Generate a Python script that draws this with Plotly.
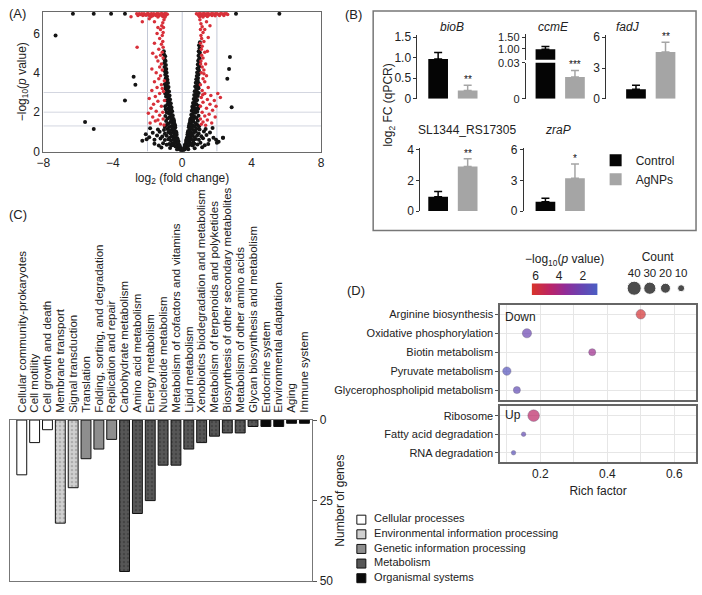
import plotly.graph_objects as go

W, H = 702, 595
def fx(px):
    return px / W
def fy(py):
    return 1 - py / H

FONT = "Liberation Sans, Arial, sans-serif"

# ---------------- Panel A : volcano (log2 FC, -log10 p) ----------------
volcano_black = [
    (-0.02,0.02),(-0.05,0.05),(-0.10,0.08),(-0.15,0.12),(-0.08,0.15),(-0.22,0.18),(-0.30,0.10),(-0.12,0.22),
    (-0.18,0.28),(-0.27,0.30),(-0.38,0.26),(-0.50,0.32),(-0.62,0.30),(-0.20,0.38),(-0.33,0.42),(-0.45,0.45),
    (-0.58,0.40),(-0.75,0.38),(-0.90,0.35),(-1.10,0.42),(-1.35,0.30),(-0.22,0.52),(-0.30,0.55),(-0.40,0.58),
    (-0.52,0.60),(-0.65,0.55),(-0.80,0.62),(-1.00,0.58),(-1.25,0.66),(-1.60,0.60),(-0.28,0.68),(-0.38,0.72),
    (-0.48,0.75),(-0.60,0.78),(-0.72,0.70),(-0.90,0.80),(-1.15,0.76),(-1.45,0.82),(-1.90,0.72),(-0.32,0.85),
    (-0.42,0.90),(-0.55,0.95),(-0.68,0.92),(-0.80,0.98),(-1.00,0.90),(-1.30,1.00),(-1.70,0.95),(-2.10,0.88),
    (-0.36,1.02),(-0.46,1.08),(-0.58,1.12),(-0.70,1.06),(-0.85,1.15),(-1.05,1.10),(-1.40,1.12),(-1.85,1.18),
    (-2.05,0.62),(-0.40,1.22),(-0.50,1.28),(-0.62,1.30),(-0.75,1.25),(-0.90,1.35),(-1.00,1.25),(-0.44,1.40),
    (-0.54,1.45),(-0.66,1.50),(-0.80,1.42),(-0.93,1.55),(-0.48,1.58),(-0.50,1.65),(-0.60,1.70),(-0.72,1.75),
    (-0.85,1.68),(-0.97,1.80),(-0.55,1.85),(-0.65,1.90),(-0.78,1.95),(-0.90,2.00),(-0.58,2.05),(-0.68,2.12),
    (-0.82,2.18),(-0.95,2.15),(-0.62,2.25),(-0.72,2.32),(-0.86,2.38),(-0.98,2.30),(-0.66,2.45),(-0.76,2.52),
    (-0.90,2.60),(-0.70,2.65),(-0.80,2.72),(-0.93,2.80),(-0.73,2.85),(-0.85,2.92),(-0.98,2.95),(-0.76,3.05),
    (-0.87,3.12),(-0.97,3.20),(-0.79,3.28),(-0.90,3.35),(-0.82,3.48),(-0.93,3.55),(-1.00,3.42),(-0.85,3.65),
    (-0.95,3.72),(-0.88,3.82),(-0.98,3.90),(-0.90,4.00),(-1.00,4.08),(-0.92,4.20),(-1.02,4.30),(-0.94,4.40),
    (-1.03,4.50),(-0.96,4.60),(-1.04,4.72),(-0.98,4.85),(-1.05,4.95),(-0.25,0.45),(-0.35,0.62),(-0.44,0.82),
    (-0.53,1.18),(-0.64,1.62),(-0.74,2.05),(-0.83,2.55),(-0.88,3.00),(-0.95,3.30),(-0.15,0.30),(-0.26,0.60),
    (-0.33,0.95),(-0.41,1.32),(-0.47,1.50),(-0.57,1.78),(-0.63,2.18),(-0.69,2.38),(-0.78,2.78),(-0.84,3.20),
    (-0.91,3.62),(-0.96,4.15),(-1.00,4.65),(-1.06,5.10),(-1.60,0.40),(-2.30,0.55),(-1.20,0.20),(-0.70,0.18),
    (0.03,0.03),(0.07,0.06),(0.12,0.10),(0.18,0.14),(0.10,0.18),(0.25,0.20),(0.35,0.12),(0.16,0.26),
    (0.24,0.30),(0.34,0.28),(0.46,0.34),(0.60,0.30),(0.20,0.40),(0.30,0.44),(0.42,0.46),(0.55,0.42),
    (0.70,0.40),(0.88,0.36),(1.05,0.44),(1.30,0.32),(0.22,0.54),(0.32,0.56),(0.42,0.60),(0.52,0.62),
    (0.64,0.56),(0.78,0.64),(0.96,0.60),(1.20,0.68),(1.55,0.58),(0.27,0.70),(0.36,0.74),(0.47,0.76),
    (0.58,0.80),(0.70,0.72),(0.86,0.82),(1.10,0.78),(1.40,0.84),(1.80,0.70),(0.30,0.86),(0.40,0.92),
    (0.52,0.96),(0.65,0.94),(0.78,1.00),(0.95,0.92),(1.25,1.02),(1.60,0.97),(2.35,0.70),(0.34,1.04),
    (0.44,1.10),(0.56,1.14),(0.68,1.08),(0.82,1.16),(1.00,1.12),(1.35,1.15),(1.75,1.20),(0.38,1.24),
    (0.48,1.30),(0.60,1.32),(0.72,1.27),(0.86,1.36),(0.97,1.28),(0.42,1.42),(0.52,1.47),(0.64,1.52),
    (0.77,1.44),(0.90,1.57),(0.46,1.60),(0.48,1.67),(0.58,1.72),(0.70,1.77),(0.82,1.70),(0.94,1.82),
    (0.52,1.87),(0.62,1.92),(0.75,1.97),(0.87,2.02),(0.55,2.07),(0.65,2.14),(0.78,2.20),(0.92,2.17),
    (0.58,2.27),(0.68,2.34),(0.82,2.40),(0.95,2.32),(0.62,2.47),(0.72,2.54),(0.86,2.62),(0.66,2.67),
    (0.76,2.74),(0.90,2.82),(0.69,2.87),(0.81,2.94),(0.95,2.97),(0.72,3.07),(0.83,3.14),(0.94,3.22),
    (0.75,3.30),(0.86,3.37),(0.78,3.50),(0.89,3.57),(0.97,3.44),(0.81,3.67),(0.91,3.74),(0.84,3.84),
    (0.94,3.92),(0.86,4.02),(0.96,4.10),(0.88,4.22),(0.98,4.32),(0.90,4.42),(0.99,4.52),(0.92,4.62),
    (1.00,4.74),(0.94,4.87),(1.00,4.97),(0.95,5.10),(1.00,5.25),(0.97,5.40),(1.02,5.55),(0.26,0.48),
    (0.36,0.64),(0.45,0.85),(0.54,1.20),(0.63,1.64),(0.73,2.07),(0.80,2.58),(0.86,3.02),(0.92,3.28),
    (0.15,0.33),(0.25,0.62),(0.32,0.97),(0.40,1.34),(0.46,1.52),(0.56,1.80),(0.62,2.20),(0.67,2.40),
    (0.76,2.80),(0.82,3.22),(0.88,3.64),(0.94,4.17),(0.98,4.68),(1.01,5.05),(1.50,0.38),(2.10,0.50),
    (1.15,0.22),(0.72,0.16),(2.00,0.45),(1.95,0.60),
    (-7.30,5.90),(-5.60,1.50),(-5.10,1.15),(-3.30,2.60),(-2.80,3.80),(-2.70,3.40),
    (-6.30,7.00),(-5.10,7.00),(-4.10,7.00),(-3.30,7.00),(3.10,7.00),(5.60,7.00),
    (2.60,3.70),(2.70,4.20),(2.75,4.80),(2.85,2.25),(2.35,0.70),
]
volcano_red = [
    (-2.62,7.00),(-2.48,7.00),(-2.41,6.97),(-2.33,7.00),(-2.20,7.00),(-2.15,6.96),(-2.02,7.00),(-1.95,7.00),
    (-1.83,6.98),(-1.77,7.00),(-1.64,7.00),(-1.58,6.97),(-1.47,7.00),(-1.39,7.00),(-1.31,6.98),(-1.22,7.00),
    (-1.16,7.00),(-1.08,6.97),(-1.01,7.00),(-0.93,7.00),(-0.86,6.98),(-2.55,6.92),(-2.27,6.91),(-2.08,6.93),
    (-1.90,6.92),(-1.70,6.90),(-1.52,6.92),(-1.35,6.90),(-1.20,6.93),(-1.05,6.90),(-0.95,6.92),(-1.80,6.85),
    (-1.40,6.84),(-1.12,6.86),(-1.00,6.83),(-2.95,6.85),
    (-1.05,6.70),(-1.12,6.55),(-1.18,6.40),(-1.08,6.30),(-1.25,6.20),(-1.10,6.05),(-1.15,5.90),(-1.30,5.75),
    (-1.12,5.60),(-1.20,5.45),(-1.10,5.30),(-1.35,5.20),(-1.15,5.05),(-1.25,4.90),(-1.10,4.75),(-1.40,4.60),
    (-1.20,4.45),(-1.30,4.30),(-1.15,4.15),(-1.50,4.00),(-1.25,3.85),(-1.35,3.70),(-1.60,3.55),(-1.20,3.40),
    (-1.45,3.25),(-1.75,3.10),(-1.30,2.95),(-1.55,2.80),(-1.90,2.70),(-1.40,2.55),(-1.65,2.40),(-1.20,2.30),
    (-1.80,2.20),(-1.50,2.05),(-1.95,1.95),(-1.30,1.85),(-1.70,1.75),(-1.10,1.65),(-1.55,1.55),(-1.85,1.45),
    (-1.25,1.40),(-1.05,1.35),(-1.02,2.60),(-1.08,3.05),(-1.03,3.60),(-1.60,6.60),(-1.40,6.30),(-1.90,6.75),
    (-2.30,6.60),(-1.70,5.00),(-2.60,5.30),(-1.45,6.00),(-1.60,5.50),(-1.50,4.80),(-1.75,4.20),(-1.15,3.20),
    (-1.12,2.00),(-1.40,1.60),
    (0.82,7.00),(0.90,6.98),(0.97,7.00),(1.05,7.00),(1.12,6.97),(1.20,7.00),(1.27,7.00),(1.35,6.98),
    (1.43,7.00),(1.52,7.00),(1.60,6.97),(1.68,7.00),(1.77,7.00),(1.85,6.98),(1.93,7.00),(2.02,7.00),
    (2.10,6.97),(2.20,7.00),(2.28,7.00),(2.37,6.98),(2.45,7.00),(2.55,7.00),(2.62,6.97),(0.95,6.92),
    (1.10,6.90),(1.30,6.92),(1.50,6.91),(1.72,6.92),(1.90,6.90),(2.15,6.92),(2.40,6.91),(1.00,6.85),
    (1.20,6.84),(1.45,6.86),
    (1.02,6.70),(1.08,6.50),(1.15,6.35),(1.05,6.20),(1.20,6.05),(1.08,5.90),(1.12,5.75),(1.25,5.60),
    (1.05,5.50),(1.15,5.35),(1.10,5.20),(1.30,5.05),(1.12,4.90),(1.20,4.75),(1.08,4.60),(1.35,4.45),
    (1.15,4.30),(1.25,4.15),(1.10,4.00),(1.40,3.85),(1.20,3.70),(1.30,3.55),(1.05,3.40),(1.50,3.25),
    (1.15,3.10),(1.30,2.95),(1.65,2.85),(1.10,2.75),(1.45,2.65),(1.85,2.60),(1.20,2.50),(1.60,2.40),
    (1.05,2.30),(1.40,2.20),(1.75,2.10),(1.15,2.00),(1.55,1.90),(1.30,1.80),(1.90,1.75),(1.05,1.65),
    (1.45,1.60),(1.20,1.50),(1.70,1.45),(1.10,1.38),(1.35,1.33),(1.40,6.60),(1.60,6.40),(1.30,6.20),
    (1.50,5.80),(1.45,5.10),(2.05,2.95),(2.20,2.75),(1.95,2.30),(1.25,3.95),(1.06,4.45),(1.18,2.88),
]
fc_lines = [-2, 0, 2]
p_lines = [1.3, 2, 3]

# ---------------- Panel B : qPCR ----------------
genes = ["bioB", "ccmE", "fadJ", "SL1344_RS17305", "zraP"]
gene_titles = ["<i>bioB</i>", "<i>ccmE</i>", "<i>fadJ</i>", "SL1344_RS17305", "<i>zraP</i>"]
groups_b = ["Control", "AgNPs"]
control_mean = [0.97, 0.99, 0.92, 0.94, 0.90]
control_err = [0.16, 0.12, 0.40, 0.33, 0.35]
agnp_mean = [0.20, 0.018, 4.57, 2.90, 3.20]
agnp_err = [0.13, 0.0055, 0.95, 0.50, 1.40]
stars = ["**", "***", "**", "**", "*"]

# ---------------- Panel C : KEGG classification ----------------
kegg_terms = [
    "Cellular community-prokaryotes", "Cell motility", "Cell growth and death",
    "Membrane transport", "Signal transduction",
    "Translation", "Folding, sorting, and degradation", "Replication and repair",
    "Carbohydrate metabolism", "Amino acid metabolism", "Energy metabolism",
    "Nucleotide metabolism", "Metabolism of cofactors and vitamins", "Lipid metabolism",
    "Xenobiotics biodegradation and metabolism", "Metabolism of terpenoids and polyketides",
    "Biosynthesis of other secondary metabolites", "Metabolism of other amino acids",
    "Glycan biosynthesis and metabolism",
    "Endocrine system", "Environmental adaptation", "Aging", "Immune system",
]
kegg_counts = [17, 7, 3, 32, 21, 12, 9, 6, 47, 29, 25, 14, 14, 9, 7, 5, 4, 4, 2, 2, 2, 1, 1]
class_names = ["Cellular processes", "Environmental information processing",
               "Genetic information processing", "Metabolism", "Organismal systems"]
kegg_class = [0, 0, 0, 1, 1, 2, 2, 2, 3, 3, 3, 3, 3, 3, 3, 3, 3, 3, 3, 4, 4, 4, 4]

# ---------------- Panel D : KEGG enrichment ----------------
down_terms = ["Arginine biosynthesis", "Oxidative phosphorylation", "Biotin metabolism",
              "Pyruvate metabolism", "Glycerophospholipid metabolism"]
down_rich = [0.50, 0.16, 0.355, 0.10, 0.13]
down_logp = [6.1, 2.2, 3.9, 1.3, 1.8]
down_count = [18, 17, 10, 14, 10]
up_terms = ["Ribosome", "Fatty acid degradation", "RNA degradation"]
up_rich = [0.18, 0.15, 0.12]
up_logp = [4.9, 1.9, 1.5]
up_count = [27, 4, 4]
count_key = [40, 30, 20, 10]
logp_key = [6.3, 5, 4, 3, 2, 0.8]

# ---------------- styles ----------------
class_style = [
    dict(color="#ffffff", pattern=None),
    dict(color="#d0d0d0", pattern=dict(shape=".", fgcolor="#8a8a8a", bgcolor="#d0d0d0", size=4, solidity=0.3)),
    dict(color="#8e8e8e", pattern=None),
    dict(color="#575757", pattern=dict(shape=".", fgcolor="#2f2f2f", bgcolor="#575757", size=4, solidity=0.3)),
    dict(color="#0a0a0a", pattern=None),
]
pscale = [[0, "#4a5fc4"], [0.25, "#6845b2"], [0.5, "#922c98"], [0.72, "#b9246a"], [1, "#d9352a"]]
PMIN, PMAX = 0.75, 6.33
SIZEREF = 0.4

fig = go.Figure()

# ---- A
bx, by = zip(*volcano_black)
rx, ry = zip(*volcano_red)
fig.add_trace(go.Scatter(x=bx, y=by, mode="markers", marker=dict(size=4, color="#141414"),
                         xaxis="x", yaxis="y", showlegend=False, hoverinfo="skip", cliponaxis=True))
fig.add_trace(go.Scatter(x=rx, y=ry, mode="markers", marker=dict(size=3.5, color="#d8303a"),
                         xaxis="x", yaxis="y", showlegend=False, hoverinfo="skip", cliponaxis=True))

shapes = []
for v in fc_lines:
    shapes.append(dict(type="line", xref="x", yref="y", x0=v, x1=v, y0=0, y1=7.1,
                       line=dict(color="#c3c8d6", width=1), layer="below"))
for v in p_lines:
    shapes.append(dict(type="line", xref="x", yref="y", x0=-8, x1=8, y0=v, y1=v,
                       line=dict(color="#d3d6e0", width=1), layer="below"))

# ---- B
b_axes = [("x2", "y2"), ("x3", "y3"), ("x5", "y5"), ("x6", "y6"), ("x7", "y7")]
for i in range(len(genes)):
    xa, ya = b_axes[i]
    pairs = [(xa, ya)]
    if genes[i] == "ccmE":
        pairs.append(("x4", "y4"))
    for k, (xx, yy) in enumerate(pairs):
        fig.add_trace(go.Bar(x=[groups_b[0]], y=[control_mean[i]], width=0.667, name="Control",
                             marker=dict(color="#050505", line=dict(width=0)),
                             error_y=dict(type="data", array=[control_err[i]], arrayminus=[0], symmetric=False,
                                          color="#050505", thickness=1.5, width=4),
                             legendgroup="Control", showlegend=(i == 0 and k == 0),
                             xaxis=xx, yaxis=yy, hoverinfo="skip"))
        fig.add_trace(go.Bar(x=[groups_b[1]], y=[agnp_mean[i]], width=0.667, name="AgNPs",
                             marker=dict(color="#a5a5a5", line=dict(width=0)),
                             error_y=dict(type="data", array=[agnp_err[i]], arrayminus=[0], symmetric=False,
                                          color="#a5a5a5", thickness=1.5, width=4),
                             legendgroup="AgNPs", showlegend=(i == 0 and k == 0),
                             xaxis=xx, yaxis=yy, hoverinfo="skip"))

# ---- C
for c, name in enumerate(class_names):
    xs = [t for t, k in zip(kegg_terms, kegg_class) if k == c]
    ys = [v for v, k in zip(kegg_counts, kegg_class) if k == c]
    st = class_style[c]
    mk = dict(color=st["color"], line=dict(color="#111", width=1))
    if st["pattern"]:
        mk["pattern"] = st["pattern"]
    fig.add_trace(go.Bar(x=xs, y=ys, width=0.77, marker=mk, name=name, showlegend=False,
                         xaxis="x8", yaxis="y8", hoverinfo="skip"))

# C legend (custom key)
fig.add_trace(go.Scatter(x=[0] * len(class_names), y=list(range(len(class_names))), mode="markers+text",
                         marker=dict(symbol="square", size=9, color=[s["color"] for s in class_style],
                                     line=dict(color="#111", width=1)),
                         text=["  " + n for n in class_names], textposition="middle right",
                         textfont=dict(size=11, color="#222"),
                         xaxis="x13", yaxis="y13", showlegend=False, hoverinfo="skip"))

# ---- D
dm = dict(sizemode="area", sizeref=SIZEREF, sizemin=2, colorscale=pscale, cmin=PMIN, cmax=PMAX,
          showscale=False, line=dict(width=0.6, color="rgba(50,40,80,0.7)"))
fig.add_trace(go.Scatter(x=down_rich, y=down_terms, mode="markers",
                         marker=dict(size=down_count, color=down_logp, **dm),
                         xaxis="x9", yaxis="y9", showlegend=False, hoverinfo="skip"))
fig.add_trace(go.Scatter(x=up_rich, y=up_terms, mode="markers",
                         marker=dict(size=up_count, color=up_logp, **dm),
                         xaxis="x10", yaxis="y10", showlegend=False, hoverinfo="skip"))
# colour key
fig.add_trace(go.Heatmap(x=logp_key, y=[0], z=[logp_key], colorscale=pscale, zmin=PMIN, zmax=PMAX,
                         showscale=False, zsmooth="best", xaxis="x11", yaxis="y11", hoverinfo="skip"))
# size key
fig.add_trace(go.Scatter(x=list(range(len(count_key))), y=[0] * len(count_key), mode="markers",
                         marker=dict(size=count_key, sizemode="area", sizeref=SIZEREF, color="#000"),
                         xaxis="x12", yaxis="y12", showlegend=False, hoverinfo="skip"))

# ---------------- layout ----------------
tickf = dict(family=FONT, size=12, color="#222")
lay = dict(
    width=W, height=595, margin=dict(l=0, r=0, t=0, b=0),
    paper_bgcolor="white", plot_bgcolor="white",
    font=dict(family=FONT, size=12, color="#222"),
    barmode="overlay", showlegend=True,
    legend=dict(x=fx(598), y=fy(142), xanchor="left", yanchor="top", font=dict(size=12, color="#222"),
                bgcolor="rgba(0,0,0,0)", tracegroupgap=0, itemwidth=30),
)

# A axes
lay["xaxis"] = dict(domain=[fx(37), fx(319)], range=[-8, 8], tickvals=[-8, -4, 0, 4, 8],
                    showline=True, mirror=True, linecolor="#6a6a6a", linewidth=1.2, ticks="",
                    showgrid=False, zeroline=False, tickfont=tickf, anchor="y",
                    title=dict(text="log<sub>2</sub> (fold change)", font=dict(size=12), standoff=4))
lay["yaxis"] = dict(domain=[fy(148), fy(5)], range=[0, 7.1], tickvals=[0, 2, 4, 6],
                    showline=True, mirror=True, linecolor="#6a6a6a", linewidth=1.2, ticks="",
                    showgrid=False, zeroline=False, tickfont=tickf, anchor="x",
                    title=dict(text="−log<sub>10</sub>(<i>p</i> value)", font=dict(size=12), standoff=4))

# B axes
def b_x(axis_px, c0_px, width_px=73, unit=30.0):
    left = -(c0_px - axis_px) / unit
    return dict(domain=[fx(axis_px), fx(axis_px + width_px)], range=[left, left + width_px / unit],
                visible=False, type="category", categoryorder="array", categoryarray=groups_b)

bys = dict(showline=True, linecolor="#333", linewidth=1, ticks="outside", ticklen=3, tickcolor="#333",
           showgrid=False, zeroline=False)

def b_y(anchor, bottom_px, toptick_px, toptick, rtop, tickvals, ticktext):
    ppu = (bottom_px - toptick_px) / toptick
    return dict(domain=[fy(bottom_px), fy(bottom_px - rtop * ppu)], range=[0, rtop],
                tickvals=tickvals, ticktext=ticktext, anchor=anchor, tickfont=tickf, **bys)

small_tick = dict(family=FONT, size=11, color="#222")
lay["xaxis2"] = dict(b_x(417, 438), anchor="y2")
lay["yaxis2"] = b_y("x2", 94, 31, 1.5, 1.55, [0, 0.5, 1.0, 1.5], ["0", "0.5", "1.0", "1.5"])
lay["xaxis3"] = dict(b_x(527, 547), anchor="y3")
lay["yaxis3"] = dict(domain=[fy(94), fy(57)], range=[0, 0.03], tickvals=[0, 0.03], ticktext=["0", "0.03"],
                     anchor="x3", tickfont=small_tick, **bys)
lay["xaxis4"] = dict(b_x(527, 547), anchor="y4")
lay["yaxis4"] = dict(domain=[fy(54), fy(28)], range=[0.54, 1.625], tickvals=[1.0, 1.5], ticktext=["1.00", "1.50"],
                     anchor="x4", tickfont=small_tick, **bys)
lay["xaxis5"] = dict(b_x(609, 639), anchor="y5")
lay["yaxis5"] = b_y("x5", 94, 31, 6, 6.2, [0, 3, 6], ["0", "3", "6"])
lay["xaxis6"] = dict(b_x(420, 438), anchor="y6")
lay["yaxis6"] = b_y("x6", 209, 146, 4, 4.13, [0, 2, 4], ["0", "2", "4"])
lay["xaxis7"] = dict(b_x(525, 547), anchor="y7")
lay["yaxis7"] = b_y("x7", 209, 146, 6, 6.2, [0, 3, 6], ["0", "3", "6"])

# C axes
lay["xaxis8"] = dict(domain=[fx(3), fx(310)], range=[-0.92, 22.6], type="category", categoryorder="array",
                     categoryarray=kegg_terms, tickmode="array", tickvals=kegg_terms, ticktext=kegg_terms,
                     side="top", tickangle=-90, ticks="",
                     tickfont=dict(family=FONT, size=11.5, color="#222"), ticklabelstandoff=4,
                     showline=True, mirror=True, linecolor="#777", linewidth=1.2, showgrid=False, anchor="y8")
lay["yaxis8"] = dict(domain=[fy(588), fy(423)], range=[50, 0], side="right", tickvals=[0, 25, 50],
                     ticks="outside", ticklen=4, tickcolor="#555", showline=True, mirror=True, linecolor="#777",
                     linewidth=1.2, showgrid=False, zeroline=False, tickfont=tickf, anchor="x8",
                     title=dict(text="Number of genes", font=dict(size=12), standoff=2))
lay["xaxis13"] = dict(domain=[fx(353), fx(640)], range=[-0.25, 10], visible=False, anchor="y13")
lay["yaxis13"] = dict(domain=[fy(592), fy(518)], range=[4.47, -0.47], visible=False, anchor="x13")

# D axes
dgrid = "#e6e6e6"
dx_common = dict(domain=[fx(501), fx(700)], range=[0.08, 0.665], tickvals=[0.2, 0.4, 0.6],
                 ticktext=["0.2", "0.4", "0.6"], showgrid=True, gridcolor=dgrid, zeroline=False,
                 showline=True, mirror=True, linecolor="#666", linewidth=1.5, ticks="",
                 minor=dict(dtick=0.1, tick0=0, showgrid=True, gridcolor=dgrid), tickfont=tickf)
dy_common = dict(type="category", showgrid=True, gridcolor=dgrid, showline=True, mirror=True, linecolor="#666",
                 linewidth=1.5, ticks="outside", ticklen=3, tickcolor="#555",
                 tickfont=dict(family=FONT, size=11, color="#222"), zeroline=False)
lay["xaxis9"] = dict(dx_common, showticklabels=False, anchor="y9")
lay["yaxis9"] = dict(dy_common, domain=[fy(402), fy(305)], categoryorder="array", categoryarray=down_terms,
                     range=[4.5, -0.5], anchor="x9")
lay["xaxis10"] = dict(dx_common, anchor="y10", title=dict(text="Rich factor", font=dict(size=12), standoff=6))
lay["yaxis10"] = dict(dy_common, domain=[fy(466), fy(409)], categoryorder="array", categoryarray=up_terms,
                      range=[2.5, -0.5], anchor="x10")
lay["xaxis11"] = dict(domain=[fx(533), fx(600)], range=[PMAX, PMIN], side="top", tickvals=[6, 4, 2],
                      ticktext=["6", "4", "2"], ticks="", tickangle=0, showgrid=False, zeroline=False,
                      showline=False, tickfont=dict(family=FONT, size=12, color="#222"), anchor="y11",
                      title=dict(text="−log<sub>10</sub>(<i>p</i> value)", font=dict(size=12), standoff=2))
lay["yaxis11"] = dict(domain=[fy(295), fy(283)], range=[-0.5, 0.5], visible=False, anchor="x11")
lay["xaxis12"] = dict(domain=[fx(630), fx(692)], range=[-0.45, 3.45], side="top", tickvals=[0, 1, 2, 3],
                      ticktext=[str(c) for c in count_key], ticks="", tickangle=0, showgrid=False,
                      zeroline=False, showline=False, tickfont=dict(family=FONT, size=11.5, color="#222"),
                      anchor="y12", title=dict(text="Count", font=dict(size=12), standoff=2))
lay["yaxis12"] = dict(domain=[fy(296), fy(280)], range=[-1, 1], visible=False, anchor="x12")

# annotations
ann = []
def lab(text, px, py, size=13, xanchor="left"):
    ann.append(dict(text=text, x=fx(px), y=fy(py), xref="paper", yref="paper", showarrow=False,
                    xanchor=xanchor, yanchor="middle", font=dict(size=size, color="#222")))
lab("(A)", 0, 7)
lab("(B)", 341, 8)
lab("(C)", 0, 213)
lab("(D)", 343, 290)
lab("Down", 504, 317, 12)
lab("Up", 504, 418, 12)
title_pos = [(452, 20), (555, 20), (631, 20), (467, 126), (560, 126)]
for t, (px, py) in zip(gene_titles, title_pos):
    lab(t, px, py, 12, "center")
ann.append(dict(text="log<sub>2</sub> FC (qPCR)", x=fx(388), y=fy(100), xref="paper", yref="paper",
                textangle=-90, showarrow=False, xanchor="center", yanchor="middle",
                font=dict(size=12, color="#222")))
star_axes = [("x2", "y2"), ("x3", "y3"), ("x5", "y5"), ("x6", "y6"), ("x7", "y7")]
for i, s in enumerate(stars):
    xa, ya = star_axes[i]
    ann.append(dict(text=s, x=groups_b[1], y=agnp_mean[i] + agnp_err[i], xref=xa, yref=ya, showarrow=False,
                    yanchor="bottom", yshift=-2, font=dict(size=10, color="#111")))

shapes.append(dict(type="rect", xref="paper", yref="paper", x0=fx(372), x1=fx(700), y0=fy(229), y1=fy(4),
                   line=dict(color="#777", width=1.5)))

lay["annotations"] = ann
lay["shapes"] = shapes
fig.update_layout(**lay)
fig.write_html("out.html", config={"displayModeBar": False},
               post_script="document.body.style.margin='0';document.body.style.overflow='hidden';")
